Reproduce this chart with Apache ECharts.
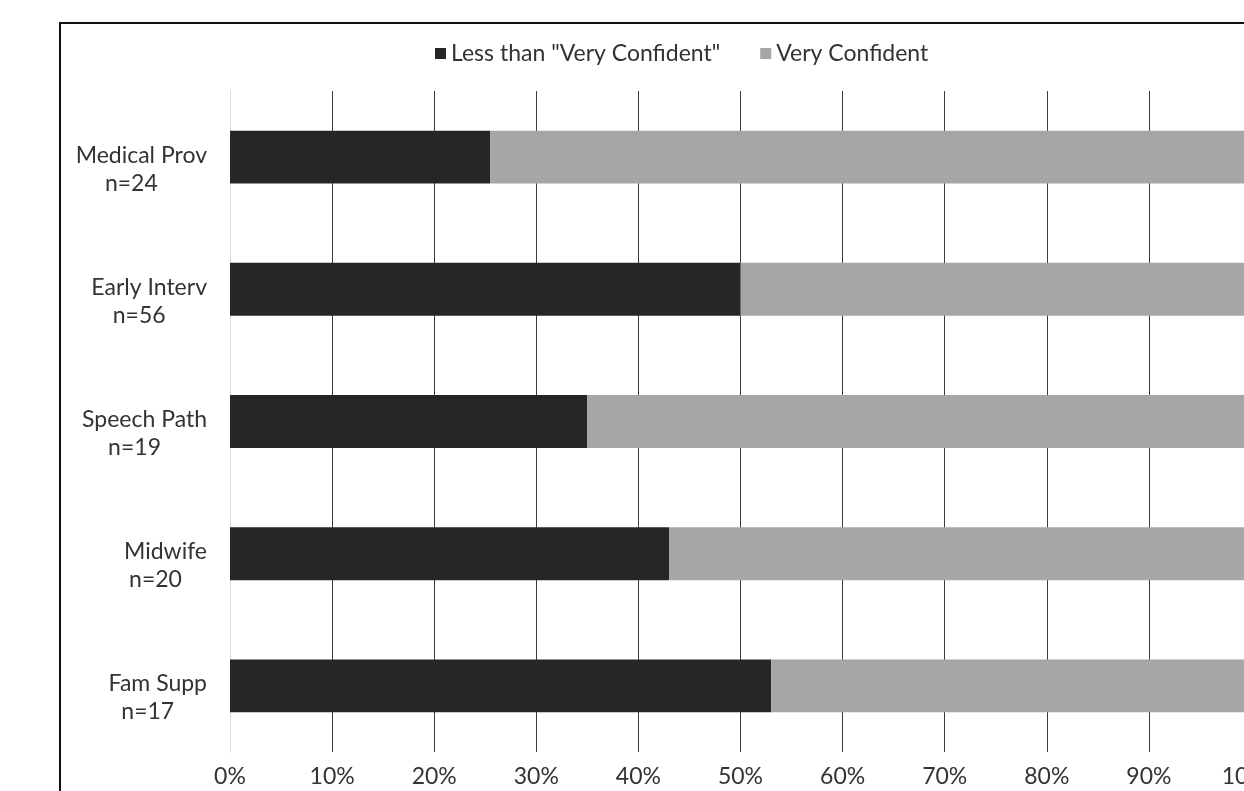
<!DOCTYPE html>
<html>
<head>
<meta charset="utf-8">
<title>Confidence by provider</title>
<script src="https://cdn.jsdelivr.net/npm/echarts@6/dist/echarts.min.js"></script>
<style>
  html, body { margin: 0; padding: 0; background: #fff; }
  #chart { width: 1244px; height: 791px; }
</style>
</head>
<body>
<div id="chart"></div>
<script>
// data
var categories = ['Medical Prov', 'Early Interv', 'Speech Path', 'Midwife', 'Fam Supp'];
var sampleSizes = [24, 56, 19, 20, 17];
var lessThanVery = [25.5, 50, 35, 43, 53];
var veryConfident = [74.5, 50, 65, 57, 47];
var seriesNames = ['Less than "Very Confident"', 'Very Confident'];

var font = 'Lato';
var fontSize = 23;
var myChart = echarts.init(document.getElementById('chart'));

var labelsByName = {};
categories.forEach(function (c, i) { labelsByName[c] = sampleSizes[i]; });

// first split line (0%) is light like the axis, rest are dark
var gridColors = ['#d9d9d9'];
for (var i = 0; i < 10; i++) gridColors.push('#3a3a3a');

option = {
    animation: false,
    backgroundColor: '#fff',
    textStyle: { fontFamily: font },
    graphic: [{
        type: 'rect',
        shape: { x: 60, y: 23, width: 1400, height: 1000 },
        style: { fill: 'none', stroke: '#111', lineWidth: 2 },
        z: 100
    }],
    legend: {
        left: 430,
        top: 37,
        itemWidth: 11,
        itemHeight: 11,
        itemGap: 40,
        icon: 'rect',
        textStyle: { fontFamily: font, fontSize: fontSize, color: '#333' },
        data: seriesNames
    },
    grid: {
        left: 230,
        right: -7,
        top: 91,
        bottom: 39,
        containLabel: false,
        outerBoundsMode: 'none'
    },
    xAxis: {
        type: 'value',
        min: 0,
        max: 100,
        interval: 10,
        axisLine: { show: false },
        axisTick: { show: false },
        axisLabel: {
            formatter: '{value}%',
            fontFamily: font,
            fontSize: fontSize,
            color: '#333',
            margin: 13
        },
        splitLine: { show: true, lineStyle: { color: gridColors, width: 1 } }
    },
    yAxis: {
        type: 'category',
        inverse: true,
        data: categories,
        axisLine: { show: true, lineStyle: { color: '#d9d9d9', width: 1 } },
        axisTick: { show: false },
        axisLabel: {
            margin: 23,
            padding: [24, 0, 0, 0],
            formatter: function (name) {
                return '{a|' + name + '}\n{b|n=' + labelsByName[name] + '}';
            },
            rich: {
                a: { fontFamily: font, fontSize: fontSize, color: '#333', lineHeight: 28, align: 'right' },
                b: { fontFamily: font, fontSize: fontSize, color: '#333', lineHeight: 28, align: 'center', padding: [0, 20, 0, 0] }
            }
        }
    },
    series: [{
        name: seriesNames[0],
        type: 'bar',
        stack: 'total',
        barWidth: '40%',
        itemStyle: { color: '#262626' },
        data: lessThanVery
    }, {
        name: seriesNames[1],
        type: 'bar',
        stack: 'total',
        barWidth: '40%',
        itemStyle: { color: '#a6a6a6' },
        data: veryConfident
    }]
};

myChart.setOption(option, true);
</script>
</body>
</html>
